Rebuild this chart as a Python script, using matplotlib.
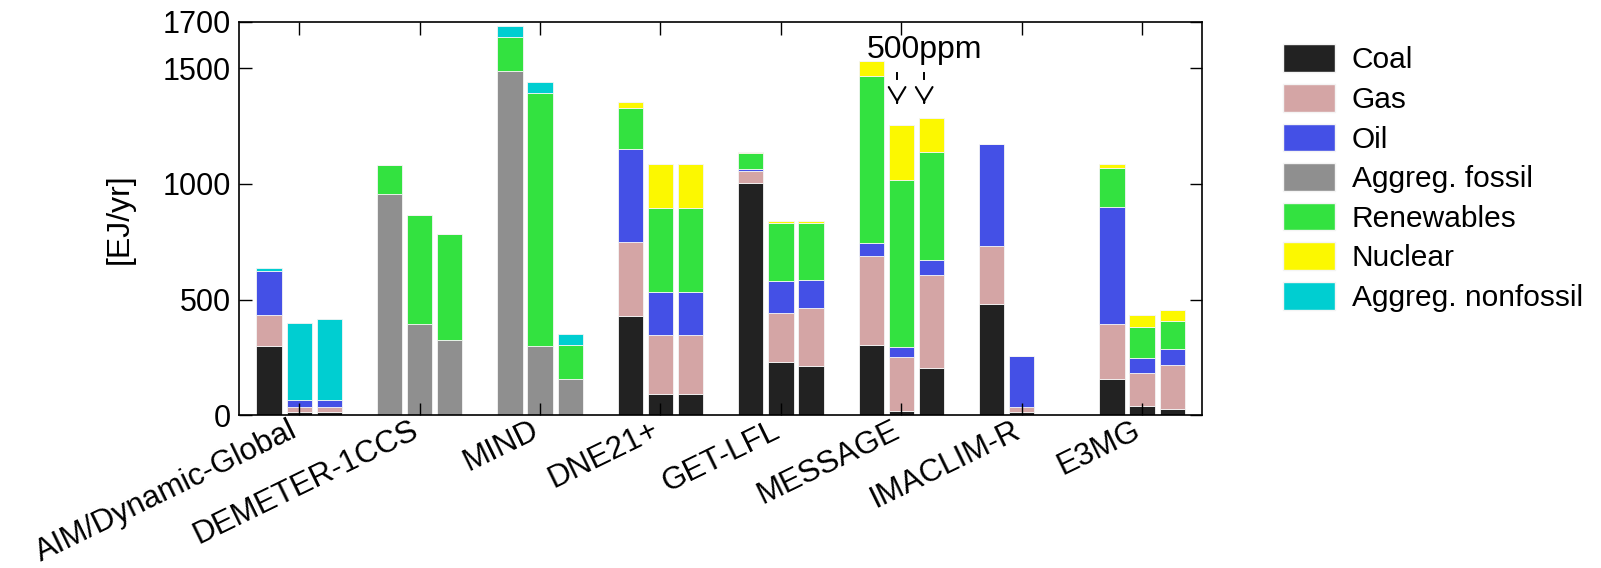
import numpy as np
import matplotlib
matplotlib.use("Agg")
import matplotlib.pyplot as plt
import matplotlib.transforms as mtransforms
from matplotlib.patches import Patch

plt.rcParams["font.family"] = ["Liberation Sans", "DejaVu Sans"]

models = ["AIM/Dynamic-Global", "DEMETER-1CCS", "MIND", "DNE21+",
          "GET-LFL", "MESSAGE", "IMACLIM-R", "E3MG"]

# three scenarios per model, values in EJ/yr
coal = [298, 13, 13,   0, 0, 0,   0, 0, 0,      429, 92, 92,
        1003, 229, 213,   304, 17, 203,   480, 13, 0,   158, 42, 27]
gas = [137, 24, 24,   0, 0, 0,   0, 0, 0,      321, 256, 256,
       54, 214, 251,   386, 236, 402,   250, 24, 0,   237, 141, 190]
oil = [190, 30, 30,   0, 0, 0,   0, 0, 0,      402, 186, 186,
       9, 137, 122,   56, 41, 66,   443, 221, 0,   507, 66, 71]
fossil = [0, 0, 0,   958, 395, 324,   1489, 298, 157,   0, 0, 0,
          0, 0, 0,   0, 0, 0,   0, 0, 0,   0, 0, 0]
renewables = [0, 0, 0,   125, 471, 461,   146, 1095, 147,   177, 362, 362,
              68, 252, 246,   719, 723, 467,   0, 0, 0,   166, 134, 121]
nuclear = [0, 0, 0,   0, 0, 0,   0, 0, 0,   25, 191, 191,
           4, 6, 9,   65, 236, 147,   0, 0, 0,   19, 50, 46]
nonfossil = [12, 332, 348,   0, 0, 0,   46, 48, 46,   0, 0, 0,
             0, 0, 0,   0, 0, 0,   0, 0, 0,   0, 0, 0]

series = [("Coal", coal, "#222222"),
          ("Gas", gas, "#d4a5a5"),
          ("Oil", oil, "#4450e6"),
          ("Aggreg. fossil", fossil, "#8f8f8f"),
          ("Renewables", renewables, "#33e240"),
          ("Nuclear", nuclear, "#fcf800"),
          ("Aggreg. nonfossil", nonfossil, "#00ced1")]

fig = plt.figure(figsize=(16.01, 5.68), dpi=100)
ax = fig.add_axes([0.1493, 0.2688, 0.6017, 0.6925])

group = np.arange(len(models))
xpos = (group[:, None] + np.array([-0.25, 0.0, 0.25])[None, :]).ravel()
bottom = np.zeros(len(xpos))
for name, vals, col in series:
    vals = np.array(vals, dtype=float)
    ax.bar(xpos, vals, width=0.21, bottom=bottom, color=col,
           edgecolor="#f4f4f4", linewidth=0.6)
    bottom += vals

ax.set_xlim(-0.5, 7.5)
ax.set_ylim(0, 1700)
ax.set_yticks([0, 500, 1000, 1500, 1700])
ax.set_xticks(group)
ax.set_xticklabels(models, rotation=26, ha="right", va="top",
                   rotation_mode="anchor", fontsize=22.5)
ax.tick_params(axis="y", labelsize=22)
ax.tick_params(direction="in", top=True, right=True, length=9,
               width=1, pad=6)
ax.tick_params(axis="x", pad=0)
# nudge the slanted labels a little left so they end just before the tick
shift = mtransforms.ScaledTranslation(-10 / 100, 0, fig.dpi_scale_trans)
for lab in ax.get_xticklabels():
    lab.set_transform(lab.get_transform() + shift)
ax.set_ylabel("[EJ/yr]", fontsize=23, labelpad=20)
for sp in ax.spines.values():
    sp.set_linewidth(1.2)

# 500ppm marker: short dash above an open "v" head, pointing at two bars
ax.text(5.19, 1579, "500ppm", fontsize=23, ha="center", va="center")
for x in (4.965, 5.19):
    ax.plot([x, x], [1478, 1452], color="black", lw=1.4)
    ax.annotate("", xy=(x, 1350), xytext=(x, 1352),
                arrowprops=dict(arrowstyle="->,head_length=0.5,head_width=0.3",
                                color="black", lw=1.5, mutation_scale=20,
                                shrinkA=0, shrinkB=0))

handles = [Patch(facecolor=c, edgecolor="#f4f4f4", label=n)
           for n, _, c in series]
fig.legend(handles=handles, loc="upper left",
           bbox_to_anchor=(0.794, 0.943), frameon=False, fontsize=21.5,
           handlelength=1.75, handleheight=1.05, labelspacing=0.32,
           handletextpad=0.55, borderaxespad=0)

fig.savefig("out.png", dpi=100)
